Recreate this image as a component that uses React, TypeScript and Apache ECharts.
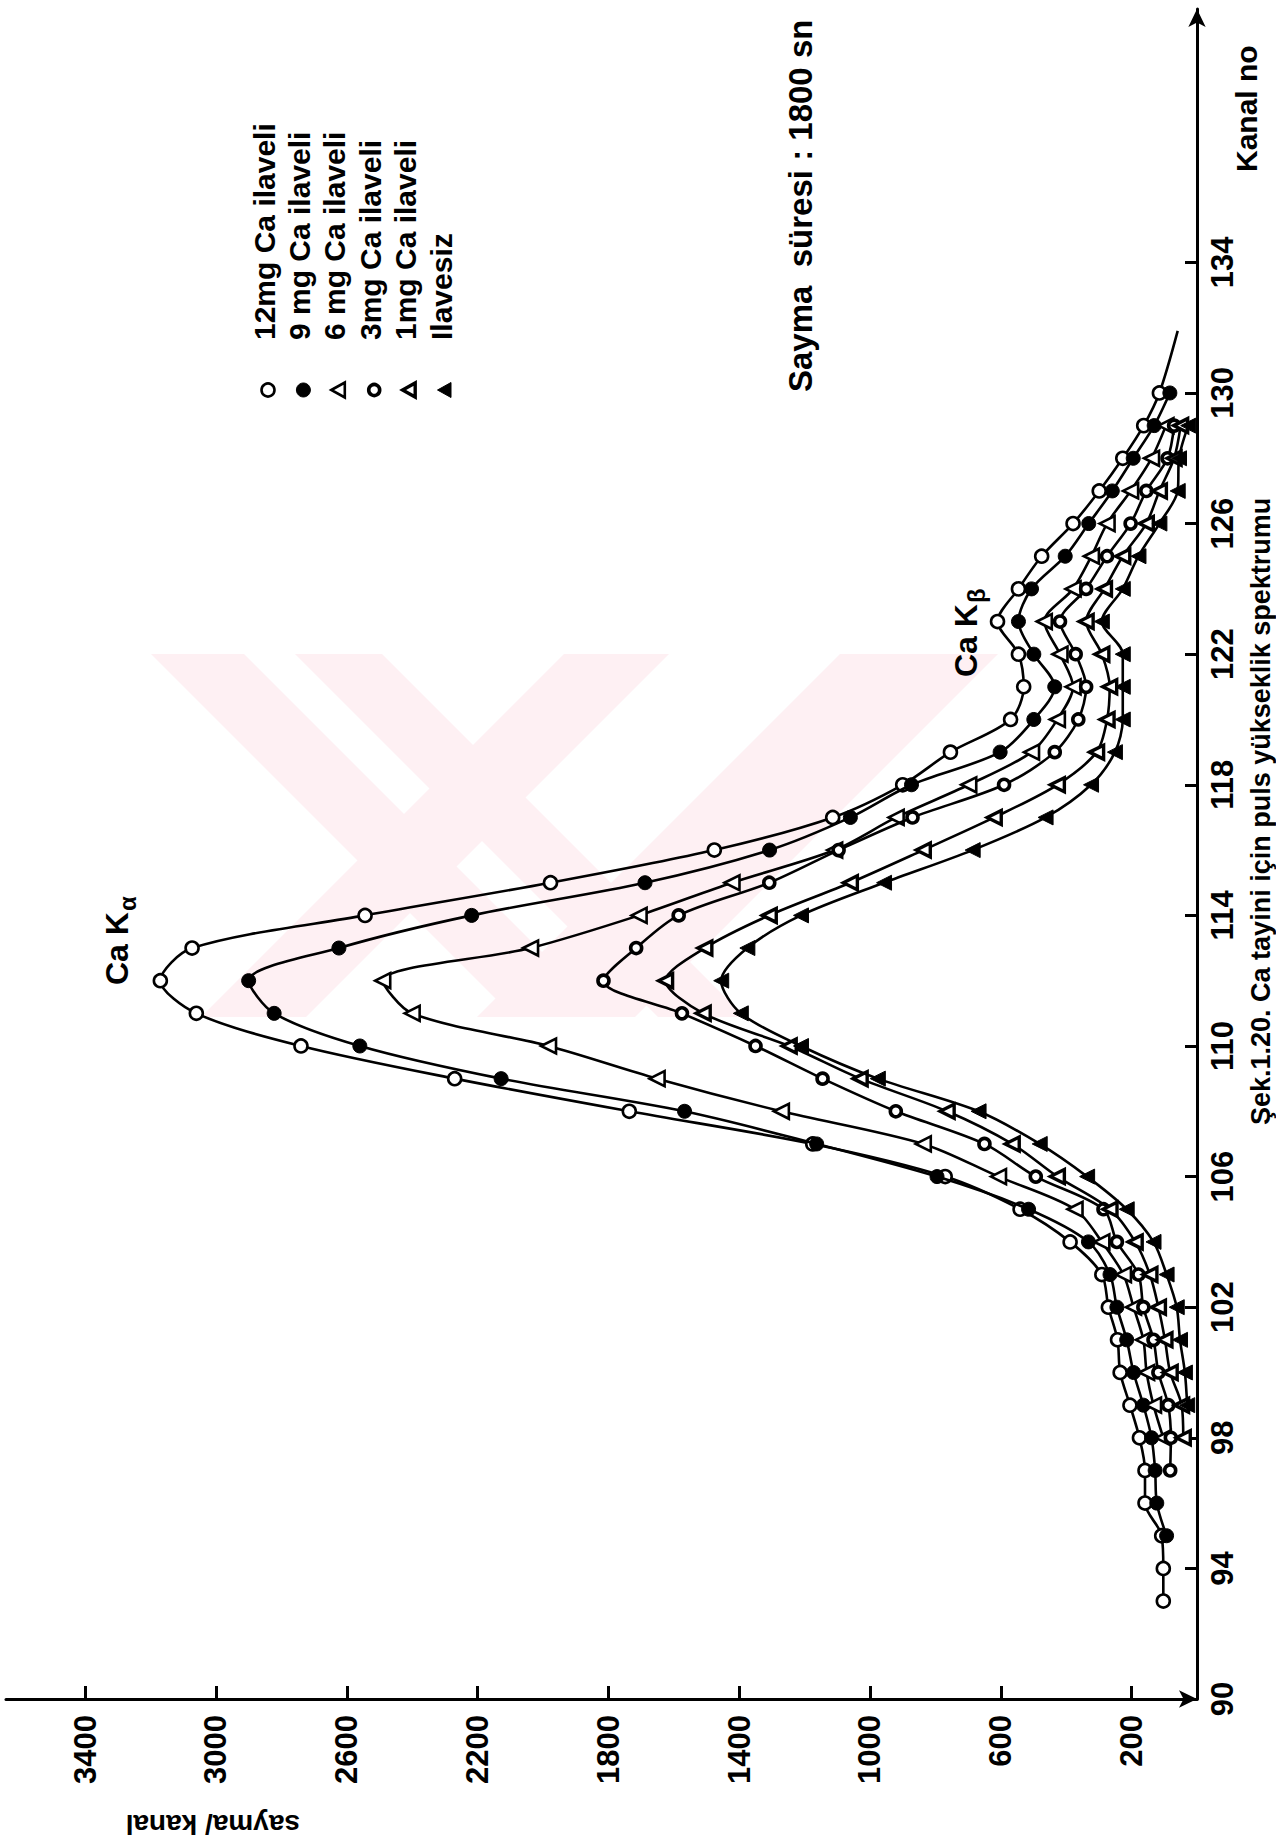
import React, { useEffect, useRef } from "react";
import * as echarts from "echarts";

const FONT = "'Liberation Sans', 'DejaVu Sans', Arial, sans-serif";

// axis ticks
const countTicks = [200, 600, 1000, 1400, 1800, 2200, 2600, 3000, 3400];
const channelTicks = [90, 94, 98, 102, 106, 110, 114, 118, 122, 126, 130, 134];

// series (count per channel, consecutive channels starting at firstChannels[i])
const seriesNames = ["12mg Ca ilaveli", "9 mg Ca ilaveli", "6 mg Ca ilaveli", "3mg Ca ilaveli", "1mg Ca ilaveli", "Ilavesiz"];
const firstChannels = [93, 95, 98, 97, 98, 99];
const counts12mg = [103, 103, 108, 159, 159, 176, 205, 235, 243, 271, 291, 388, 541, 770, 1175, 1736, 2270, 2740, 3060, 3170, 3073, 2544, 1977, 1476, 1114, 900, 754, 570, 530, 546, 610, 546, 475, 379, 299, 227, 163, 115];
const counts9mg = [93, 123, 128, 139, 164, 194, 215, 245, 266, 332, 515, 795, 1163, 1567, 2128, 2560, 2822, 2900, 2624, 2218, 1688, 1307, 1060, 873, 602, 499, 435, 499, 546, 506, 403, 331, 259, 195, 131, 83];
const counts6mg = [103, 133, 154, 164, 194, 225, 291, 373, 607, 837, 1271, 1651, 1983, 2400, 2490, 2038, 1706, 1422, 1108, 920, 698, 506, 427, 379, 419, 467, 379, 323, 275, 203, 139, 95];
const counts3mg = [82, 80, 88, 118, 133, 164, 179, 245, 286, 493, 650, 921, 1145, 1350, 1575, 1815, 1715, 1585, 1308, 1096, 870, 590, 435, 363, 339, 371, 419, 339, 275, 203, 155, 90, 70];
const counts1mg = [42, 47, 82, 98, 118, 144, 189, 266, 427, 565, 764, 1030, 1247, 1510, 1625, 1505, 1308, 1060, 837, 620, 427, 307, 275, 267, 291, 339, 283, 227, 155, 115, 70, 50];
const countsNone = [30, 37, 52, 62, 93, 133, 215, 336, 481, 668, 976, 1211, 1395, 1455, 1375, 1211, 957, 686, 463, 324, 251, 227, 227, 227, 291, 227, 179, 115, 59, 55, 27];
const allCounts = [counts12mg, counts9mg, counts6mg, counts3mg, counts1mg, countsNone];
// unmarked end of the 12 mg curve: [count, channel]
const tail12mg = [59, 131.9];

// annotation texts
const countAxisName = "sayma/ kanal";
const channelAxisName = "Kanal no";
const timeNote = "Sayma  süresi : 1800 sn";
const caption = "Şek.1.20. Ca tayini için puls yükseklik spektrumu";

const markers = [
  { symbol: "circle", size: 13, rotate: 0, fill: "#fff", border: 2.6 },
  { symbol: "circle", size: 14, rotate: 0, fill: "#000", border: 1 },
  { symbol: "triangle", size: 15, rotate: 90, fill: "#fff", border: 2.6 },
  { symbol: "circle", size: 11, rotate: 0, fill: "#fff", border: 3.6 },
  { symbol: "triangle", size: 14, rotate: 90, fill: "#fff", border: 3.4 },
  { symbol: "triangle", size: 15, rotate: 90, fill: "#000", border: 1 },
];

// faint background watermark bands ([left, right] at top edge, slant direction)
const WM_TOP = 654;
const WM_BOTTOM = 1017;
const wmBands: [number, number, number][] = [
  [151, 244, 1],
  [295, 382, 1],
  [564, 669, -1],
  [840, 998, -1],
];

function txt(text: string, x: number, y: number, rotation: number, fontSize: number, align = "left", vAlign = "middle") {
  return {
    type: "text",
    x,
    y,
    rotation,
    silent: true,
    z: 10,
    style: {
      text,
      fill: "#000",
      fontSize,
      fontFamily: FONT,
      fontWeight: "bold",
      textAlign: align,
      textVerticalAlign: vAlign,
      align,
      verticalAlign: vAlign,
    },
  };
}

function subLabel(main: string, sub: string, x: number, y: number) {
  const base = { fill: "#000", fontFamily: FONT, fontWeight: "bold", textAlign: "left", textVerticalAlign: "middle", align: "left", verticalAlign: "middle" };
  return {
    type: "group",
    x,
    y,
    rotation: Math.PI / 2,
    z: 10,
    children: [
      { type: "text", x: 0, y: 0, style: { ...base, text: main, fontSize: 32 } },
      { type: "text", x: 74, y: 10, style: { ...base, text: sub, fontSize: 24 } },
    ],
  };
}

function legendSymbol(i: number, cx: number, cy: number) {
  const m = markers[i];
  if (m.symbol === "circle") {
    const r = m.size / 2;
    return { type: "circle", z: 10, shape: { cx, cy, r }, style: { fill: m.fill, stroke: "#000", lineWidth: m.border } };
  }
  const h = m.size / 2;
  return {
    type: "polygon",
    z: 10,
    shape: { points: [[cx - h, cy], [cx + h * 0.8, cy - h], [cx + h * 0.8, cy + h]] },
    style: { fill: m.fill, stroke: "#000", lineWidth: m.border },
  };
}

function watermark() {
  const h = WM_BOTTOM - WM_TOP;
  return wmBands.map(([a, b, dir]) => ({
    type: "polygon",
    z: -5,
    silent: true,
    shape: {
      points: [
        [a, WM_TOP],
        [b, WM_TOP],
        [b + dir * h, WM_BOTTOM],
        [a + dir * h, WM_BOTTOM],
      ],
    },
    style: { fill: "#fef0f3" },
  }));
}

export default function App() {
  const ref = useRef<HTMLDivElement>(null);
  useEffect(() => {
    if (!ref.current) return;
    const chart = echarts.init(ref.current, null, { renderer: "svg" });

    const series: any[] = allCounts.map((arr, i) => {
      const data: any[] = arr.map((c, k) => [c, firstChannels[i] + k]);
      if (i === 0) data.push({ value: tail12mg, symbol: "none" });
      const m = markers[i];
      return {
        type: "line",
        name: seriesNames[i],
        data,
        smooth: 0.3,
        symbol: m.symbol,
        symbolSize: m.size,
        symbolRotate: m.rotate,
        showSymbol: true,
        lineStyle: { color: "#000", width: 2.6 },
        itemStyle: { color: m.fill, borderColor: "#000", borderWidth: m.border },
        emphasis: { disabled: true },
        z: 3 + i,
      };
    });

    const graphics: any[] = [...watermark()];
    seriesNames.forEach((name, i) => {
      const lx = 268 + i * 35.4;
      graphics.push(legendSymbol(i, lx, 390));
      graphics.push(txt(name, lx - 4, 340, Math.PI / 2, 30));
    });
    graphics.push(txt(timeNote, 800, 392, Math.PI / 2, 33));
    graphics.push(txt(channelAxisName, 1246, 172, Math.PI / 2, 30));
    graphics.push(txt(countAxisName, 300, 1824, Math.PI, 28));
    graphics.push(txt(caption, 1247, 1125, Math.PI / 2, 27, "left", "top"));
    graphics.push(subLabel("Ca K", "α", 117, 985));
    graphics.push(subLabel("Ca K", "β", 966, 677));

    const labelStyle = { color: "#000", fontSize: 31, fontFamily: FONT, fontWeight: "bold" };

    chart.setOption({
      animation: false,
      backgroundColor: "#fff",
      grid: { left: 6, right: 79, top: 9, bottom: 148, containLabel: false, outerBoundsMode: "none" },
      xAxis: {
        type: "value",
        inverse: true,
        min: 0,
        max: 3642,
        position: "bottom",
        splitLine: { show: false },
        axisLine: { show: true, onZero: false, lineStyle: { color: "#000", width: 3 }, symbol: ["none", "arrow"], symbolSize: [13, 18] },
        axisTick: { show: true, inside: true, length: 13, lineStyle: { color: "#000", width: 3 }, customValues: countTicks },
        axisLabel: { show: true, rotate: 90, margin: 16, customValues: countTicks, formatter: (v: number) => String(v), ...labelStyle },
      },
      yAxis: {
        type: "value",
        min: 90,
        max: 141.76,
        position: "right",
        splitLine: { show: false },
        axisLine: { show: true, onZero: false, lineStyle: { color: "#000", width: 3 }, symbol: ["none", "arrow"], symbolSize: [13, 18] },
        axisTick: { show: true, inside: true, length: 12, lineStyle: { color: "#000", width: 3 }, customValues: channelTicks },
        axisLabel: { show: true, rotate: 90, margin: 10, customValues: channelTicks, formatter: (v: number) => String(v), ...labelStyle },
      },
      graphic: graphics,
      series,
    });
    return () => chart.dispose();
  }, []);
  return <div ref={ref} style={{ position: "absolute", left: 0, top: 0, width: 1276, height: 1847, background: "#fff" }} />;
}
